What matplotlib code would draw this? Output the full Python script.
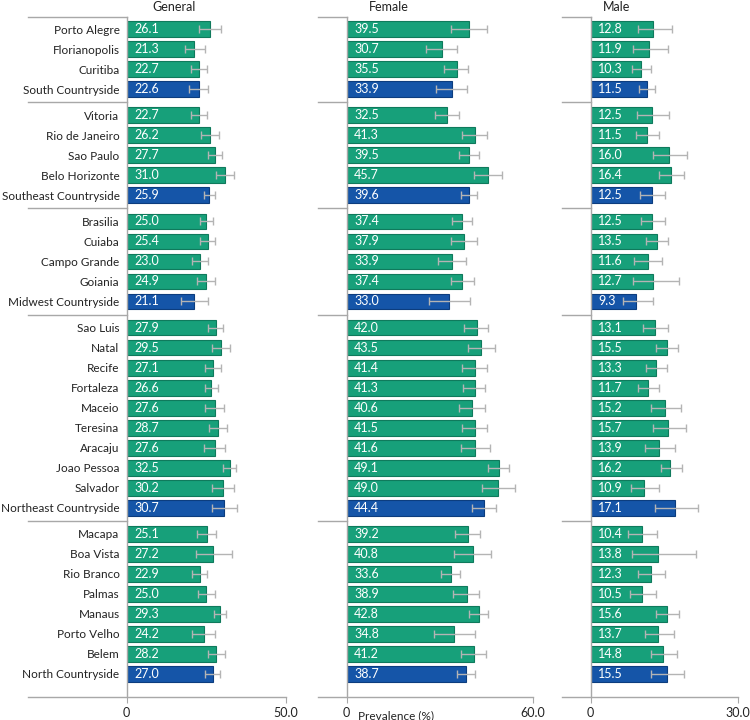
import numpy as np
import matplotlib; matplotlib.use('Agg')
import matplotlib.pyplot as plt
import matplotlib.transforms as mtrans

plt.rcParams['font.family'] = ['Lato', 'DejaVu Sans']

# ─── Data ─────────────────────────────────────────────────
groups = [
    ['Porto Alegre', 'Florianopolis', 'Curitiba', 'South Countryside'],
    ['Vitoria', 'Rio de Janeiro', 'Sao Paulo', 'Belo Horizonte', 'Southeast Countryside'],
    ['Brasilia', 'Cuiaba', 'Campo Grande', 'Goiania', 'Midwest Countryside'],
    ['Sao Luis', 'Natal', 'Recife', 'Fortaleza', 'Maceio', 'Teresina', 'Aracaju',
     'Joao Pessoa', 'Salvador', 'Northeast Countryside'],
    ['Macapa', 'Boa Vista', 'Rio Branco', 'Palmas', 'Manaus', 'Porto Velho', 'Belem',
     'North Countryside'],
]

general = [26.1, 21.3, 22.7, 22.6,
           22.7, 26.2, 27.7, 31.0, 25.9,
           25.0, 25.4, 23.0, 24.9, 21.1,
           27.9, 29.5, 27.1, 26.6, 27.6, 28.7, 27.6, 32.5, 30.2, 30.7,
           25.1, 27.2, 22.9, 25.0, 29.3, 24.2, 28.2, 27.0]
general_lo = [22.6, 18.4, 20.2, 19.7,
              20.1, 23.5, 25.4, 28.1, 24.3,
              22.9, 23.0, 20.4, 22.2, 17.1,
              25.6, 26.8, 24.7, 24.5, 24.6, 25.8, 24.4, 30.4, 26.8, 26.9,
              22.0, 21.9, 20.4, 22.3, 27.3, 20.6, 25.4, 24.5]
general_hi = [29.5, 24.5, 25.2, 25.6,
              25.1, 28.9, 29.9, 33.6, 27.8,
              27.1, 27.7, 25.6, 27.7, 25.7,
              30.2, 32.3, 29.6, 28.8, 30.7, 31.4, 30.9, 34.3, 33.6, 34.5,
              28.0, 33.0, 25.3, 27.6, 31.1, 27.8, 30.8, 29.4]

female = [39.5, 30.7, 35.5, 33.9,
          32.5, 41.3, 39.5, 45.7, 39.6,
          37.4, 37.9, 33.9, 37.4, 33.0,
          42.0, 43.5, 41.4, 41.3, 40.6, 41.5, 41.6, 49.1, 49.0, 44.4,
          39.2, 40.8, 33.6, 38.9, 42.8, 34.8, 41.2, 38.7]
female_lo = [33.7, 25.7, 31.6, 29.0,
             28.7, 37.1, 36.3, 41.2, 36.9,
             34.0, 33.7, 29.4, 33.7, 26.6,
             38.0, 39.1, 37.2, 37.7, 36.2, 37.4, 36.8, 45.5, 43.6, 40.5,
             35.1, 34.6, 30.4, 34.5, 39.6, 28.3, 36.9, 35.6]
female_hi = [45.3, 35.7, 39.3, 38.8,
             36.2, 45.3, 42.6, 50.1, 42.0,
             40.6, 42.0, 38.5, 41.1, 39.7,
             45.6, 47.8, 45.3, 44.7, 44.7, 45.3, 46.3, 52.5, 54.3, 48.1,
             43.0, 46.7, 36.6, 42.8, 45.6, 41.6, 45.0, 41.6]

male = [12.8, 11.9, 10.3, 11.5,
        12.5, 11.5, 16.0, 16.4, 12.5,
        12.5, 13.5, 11.6, 12.7, 9.3,
        13.1, 15.5, 13.3, 11.7, 15.2, 15.7, 13.9, 16.2, 10.9, 17.1,
        10.4, 13.8, 12.3, 10.5, 15.6, 13.7, 14.8, 15.5]
male_lo = [9.7, 8.7, 8.5, 9.9,
           9.5, 9.3, 12.8, 14.0, 10.1,
           10.2, 11.3, 8.9, 8.7, 6.6,
           10.6, 13.4, 11.2, 9.7, 12.3, 12.7, 11.0, 14.4, 8.3, 13.1,
           7.7, 8.5, 9.7, 8.1, 13.3, 11.0, 12.4, 12.4]
male_hi = [16.5, 15.8, 12.3, 13.1,
           16.0, 13.9, 19.6, 19.0, 15.1,
           15.1, 15.8, 14.6, 18.1, 12.7,
           15.8, 17.7, 15.5, 14.0, 18.4, 19.4, 17.2, 18.6, 13.9, 21.9,
           13.6, 21.4, 15.2, 13.4, 18.1, 16.9, 17.5, 19.1]

panel_titles = ['General', 'Female', 'Male']
panel_max = [50.0, 60.0, 30.0]

# ─── Style ────────────────────────────────────────────────
C = {'green': '#17a07a', 'green_e': '#0f7a5c', 'blue': '#1555a8', 'blue_e': '#0c3d7e',
     'err': '#b4b4b4', 'axis': '#a8a8a8', 'text': '#222222'}
GAP = 1.31          # step between groups (rows step = 1)
BAR_H = 0.78
FS = 8.5

# y positions, top to bottom
names, ypos, seps = [], [], []
y = 0.0
for gi, g in enumerate(groups):
    if gi > 0:
        seps.append(y + GAP / 2)
        y += GAP
    for j, n in enumerate(g):
        if j > 0:
            y += 1
        names.append(n)
        ypos.append(y)
ypos = np.array(ypos)
top_lim = -0.6
bot_lim = ypos[-1] + 1.15
is_cs = ['Countryside' in n for n in names]

fig = plt.figure(figsize=(7.5, 7.2), dpi=100)
ax_bottom = (720 - 697) / 720
ax_height = (697 - 17) / 720
boxes = [(126.5, 159.5, -0.618), (346.5, 186.0, -0.153), (590.5, 147.5, -0.193)]
title_pos = [0.30, 0.226, 0.18]
series = [(general, general_lo, general_hi), (female, female_lo, female_hi),
          (male, male_lo, male_hi)]

for k, ((left, width, ext), (vals, lo, hi)) in enumerate(zip(boxes, series)):
    ax = fig.add_axes([left / 750, ax_bottom, width / 750, ax_height])
    vals = np.array(vals); lo = np.array(lo); hi = np.array(hi)
    colors = [C['blue'] if c else C['green'] for c in is_cs]
    edges = [C['blue_e'] if c else C['green_e'] for c in is_cs]
    ax.barh(ypos, vals, height=BAR_H, color=colors, edgecolor=edges, linewidth=0.8, zorder=2)
    ax.errorbar(vals, ypos, xerr=[vals - lo, hi - vals], fmt='none', ecolor=C['err'],
                elinewidth=1.0, capsize=3, capthick=1.0, zorder=3)
    for v, yy in zip(vals, ypos):
        ax.annotate(f'{v:.1f}', xy=(0, yy), xytext=(5.5, 0), textcoords='offset points',
                    ha='left', va='center', color='white', fontsize=9, zorder=4)

    ax.set_xlim(0, panel_max[k])
    ax.set_ylim(bot_lim, top_lim)
    for s in ['top', 'right', 'bottom']:
        ax.spines[s].set_visible(False)
    ax.spines['left'].set_color(C['axis'])
    ax.spines['left'].set_linewidth(1.0)

    # bottom axis line + group separators extend into the label area
    ax.plot([ext, 1], [0, 0], transform=ax.transAxes, color=C['axis'], lw=1.0, clip_on=False)
    tr = mtrans.blended_transform_factory(ax.transAxes, ax.transData)
    for s in [top_lim] + seps:
        ax.plot([ext, 0], [s, s], transform=tr, color=C['axis'], lw=1.0, clip_on=False)

    ax.set_xticks([0, panel_max[k]])
    ax.set_xticklabels(['0', f'{panel_max[k]:.1f}'], fontsize=9, color=C['text'])
    ax.tick_params(axis='x', length=4, color=C['axis'], pad=3)
    if k == 0:
        ax.set_yticks(ypos)
        ax.set_yticklabels(names, fontsize=FS, color=C['text'])
        ax.tick_params(axis='y', length=0, pad=5)
    else:
        ax.set_yticks([])
    fig.text((left + title_pos[k] * width) / 750, 0.999, panel_titles[k], ha='center',
             va='top', fontsize=9, color=C['text'])

fig.text(396 / 750, 1 - 710 / 720, 'Prevalence (%)', ha='center', va='top',
         fontsize=FS, color=C['text'])

fig.savefig('out.png', dpi=100)
